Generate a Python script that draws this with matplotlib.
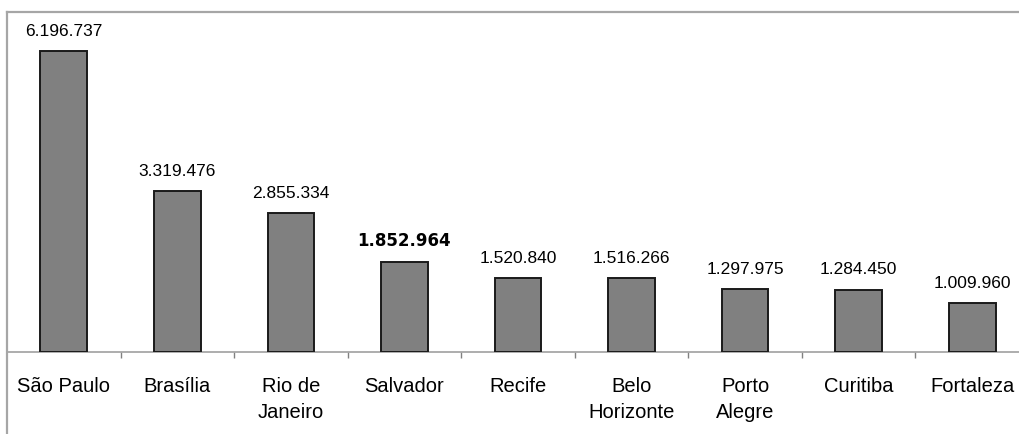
import matplotlib
matplotlib.use("Agg")
import matplotlib.pyplot as plt
from matplotlib.lines import Line2D

cities = ["São Paulo", "Brasília", "Rio de\nJaneiro", "Salvador", "Recife",
          "Belo\nHorizonte", "Porto\nAlegre", "Curitiba", "Fortaleza"]
population = [6196737, 3319476, 2855334, 1852964, 1520840,
              1516266, 1297975, 1284450, 1009960]
labels = ["6.196.737", "3.319.476", "2.855.334", "1.852.964", "1.520.840",
          "1.516.266", "1.297.975", "1.284.450", "1.009.960"]
highlight = "Salvador"

W, H = 1020, 435
fig = plt.figure(figsize=(W / 100, H / 100), dpi=100)
left, right = 7 / W, 1029 / W
bottom, top = (H - 353) / H, (H - 13) / H
ax = fig.add_axes([left, bottom, right - left, top - bottom])

x = list(range(len(cities)))
ax.bar(x, population, width=0.41, color="#808080", edgecolor="#1a1a1a",
       linewidth=1.4, zorder=3)

for xi, v, lab, c in zip(x, population, labels, cities):
    if c == highlight:
        ax.annotate(lab, (xi, v), xytext=(0, 9.5), textcoords="offset points",
                    ha="center", va="bottom", fontsize=12, fontweight="bold",
                    family="DejaVu Sans")
    else:
        ax.annotate(lab, (xi, v), xytext=(0, 9.5), textcoords="offset points",
                    ha="center", va="bottom", fontsize=12.5,
                    family="Liberation Sans")

ax.set_xlim(-0.5, len(cities) - 0.5)
ax.set_ylim(0, 7000000)
ax.set_yticks([])
ax.set_xticks(x)
ax.set_xticklabels(cities, fontsize=14.5, family="Liberation Sans",
                   linespacing=1.5)
ax.tick_params(axis="x", which="major", length=0, pad=17)
ax.set_xticks([i + 0.5 for i in x[:-1]], minor=True)
ax.tick_params(axis="x", which="minor", length=4, width=1, color="#808080",
               direction="out")

ax.spines["right"].set_visible(False)
ax.spines["left"].set_visible(False)
ax.spines["bottom"].set_color("#a0a0a0")
ax.spines["bottom"].set_linewidth(1.2)
ax.spines["top"].set_color("#a6a6a6")
ax.spines["top"].set_linewidth(1.6)

fig.add_artist(Line2D([left, left], [0, top], transform=fig.transFigure,
                      color="#a6a6a6", linewidth=1.6))

fig.savefig("out.png", dpi=100)
